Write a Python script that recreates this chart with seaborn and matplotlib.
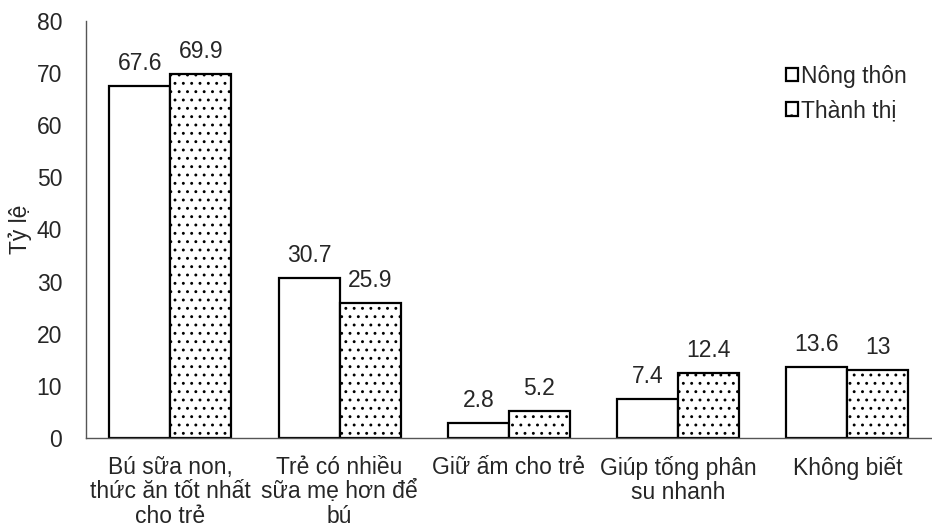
import matplotlib
matplotlib.use("Agg")
import matplotlib.pyplot as plt
import seaborn as sns
import pandas as pd

categories = [
    "Bú sữa non,\nthức ăn tốt nhất\ncho trẻ",
    "Trẻ có nhiều\nsữa mẹ hơn để\nbú",
    "Giữ ấm cho trẻ",
    "Giúp tống phân\nsu nhanh",
    "Không biết",
]
series_names = ["Nông thôn", "Thành thị"]
nong_thon = [67.6, 30.7, 2.8, 7.4, 13.6]
thanh_thi = [69.9, 25.9, 5.2, 12.4, 13.0]
value_labels = [["67.6", "30.7", "2.8", "7.4", "13.6"],
                ["69.9", "25.9", "5.2", "12.4", "13"]]
y_ticks = [0, 10, 20, 30, 40, 50, 60, 70, 80]

df = pd.DataFrame({
    "cat": categories * 2,
    "grp": [series_names[0]] * 5 + [series_names[1]] * 5,
    "val": nong_thon + thanh_thi,
})

sns.set_theme(style="white")
plt.rcParams["font.family"] = ["Liberation Sans", "DejaVu Sans"]
plt.rcParams["hatch.linewidth"] = 0.9
plt.rcParams["hatch.color"] = "#333333"

FS = 16.5

fig = plt.figure(figsize=(9.32, 5.30), dpi=100)
ax = fig.add_axes([0.092, 0.174, 0.908, 0.786])

sns.barplot(data=df, x="cat", y="val", hue="grp", order=categories,
            hue_order=series_names, palette=["white", "white"],
            edgecolor="black", linewidth=1.6, width=0.72, ax=ax,
            errorbar=None, saturation=1)

for i, cont in enumerate(ax.containers):
    for patch in cont:
        if i == 1:
            patch.set_hatch("..")
    ax.bar_label(cont, labels=value_labels[i], padding=8, fontsize=FS)

ax.set_ylim(0, 80)
ax.set_yticks(y_ticks)
ax.tick_params(axis="both", length=0, labelsize=FS)
ax.tick_params(axis="x", pad=13)
ax.tick_params(axis="y", pad=17)
for lab in ax.get_xticklabels():
    lab.set_linespacing(1.08)
ax.set_xlabel("")
ax.set_ylabel("Tỷ lệ", fontsize=FS, labelpad=3)
ax.set_xlim(-0.5, 4.5)
for s in ["top", "right"]:
    ax.spines[s].set_visible(False)
for s in ["left", "bottom"]:
    ax.spines[s].set_color("#555555")
    ax.spines[s].set_linewidth(1.0)

leg = ax.legend(frameon=False, loc="upper right", bbox_to_anchor=(0.995, 0.945),
                fontsize=FS, handlelength=0.52, handleheight=0.52,
                handletextpad=0.15, labelspacing=0.5)
handles = leg.legend_handles
for h in handles:
    h.set_edgecolor("black")
    h.set_linewidth(1.6)
handles[1].set_hatch(".")

fig.savefig("out.png", dpi=100)
